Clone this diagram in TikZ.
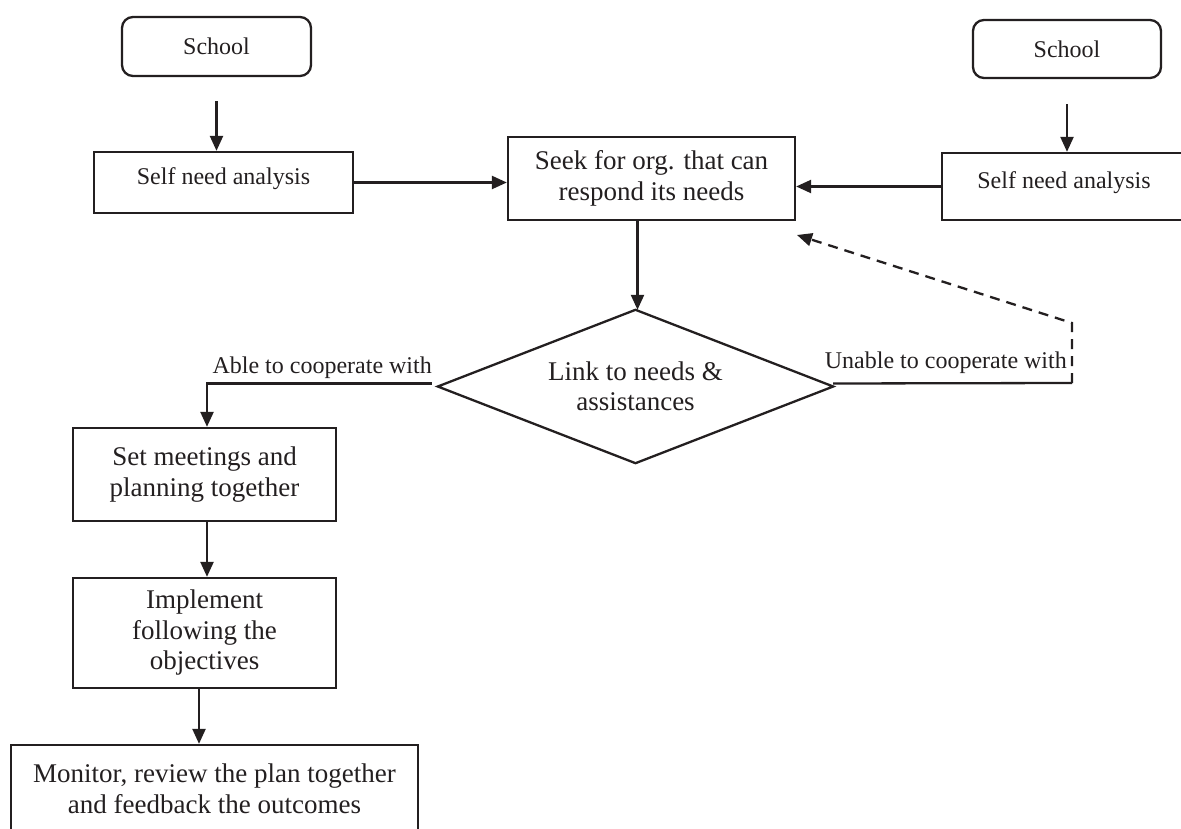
\documentclass[tikz,border=0pt]{standalone}
\usepackage{fontspec}
\setmainfont{Liberation Serif}
\usetikzlibrary{arrows.meta,calc}
\definecolor{ink}{HTML}{231F20}
\begin{document}
\begin{tikzpicture}[x=1pt,y=-1pt,
  every node/.style={text=ink},
  box/.style={draw=ink, line width=2.3pt, inner sep=0pt, align=center,
              font=\fontsize{27}{30.5}\selectfont},
  smallbox/.style={box, font=\fontsize{24}{28}\selectfont},
  selfbox/.style={smallbox, text height=16pt, text depth=12pt},
  rbox/.style={smallbox, rounded corners=11pt},
  lbl/.style={inner sep=0pt, font=\fontsize{24}{28}\selectfont},
  link/.style={draw=ink, line width=2.3pt},
  arr/.style={link, -{Triangle[length=15pt,width=13pt]}},
  fb/.style={arr, dash pattern=on 10pt off 7pt},
]
\useasboundingbox (0,0) rectangle (1181,829);
\clip (0,0) rectangle (1181,829);

% schools and their own needs analysis
\node[rbox, minimum width=189pt, minimum height=59pt] (schoolL) at (216.5,46.5) {School};
\node[rbox, minimum width=188pt, minimum height=58pt] (schoolR) at (1067,49) {School};
\node[selfbox, minimum width=259pt, minimum height=61pt] (selfL) at (223.5,182.5) {Self need analysis};
\node[selfbox, minimum width=244pt, minimum height=67pt] (selfR) at (1064,186.5) {Self need analysis};

% search for a partner organisation
\node[box, minimum width=287pt, minimum height=83pt] (seek) at (651.5,178.5)
  {Seek for org. that can\\respond its needs};

% decision
\node[inner sep=0pt, minimum width=395pt, minimum height=153pt, align=center,
      font=\fontsize{27}{30.5}\selectfont] (d) at (635.5,386.5) {Link to needs \&\\assistances};
\draw[link] (d.north) -- (d.east) -- (d.south) -- (d.west) -- cycle;

% cooperation steps
\node[box, minimum width=263pt, minimum height=93pt] (setm) at (204.5,474.5)
  {Set meetings and\\planning together};
\node[box, minimum width=263pt, minimum height=110pt] (impl) at (204.5,633)
  {Implement\\following the\\objectives};
\node[box, minimum width=407pt, minimum height=88pt] (mon) at (214.5,789)
  {Monitor, review the plan together\\and feedback the outcomes};

% branch labels
\node[lbl, anchor=base east] (ablelbl) at (432,373) {Able to cooperate with};
\node[lbl, anchor=base east] (unablelbl) at (1067,368) {Unable to cooperate with};

% connectors
\draw[arr, shorten <=24pt] (schoolL.south) -- (schoolL.south |- selfL.north);
\draw[arr, shorten <=25pt] (schoolR.south) -- (schoolR.south |- selfR.north);
\draw[arr] (selfL.east) -- (selfL.east -| seek.west);
\draw[arr] (selfR.west) -- (selfR.west -| seek.east);
\draw[arr] ([xshift=2pt]d.north |- seek.south) -- ([xshift=2pt]d.north);
\draw[arr] ([xshift=-6pt,yshift=3pt]d.west) -| ([xshift=2.5pt]setm.north);
\draw[arr] ([xshift=2.5pt]setm.south) -- ([xshift=2.5pt]impl.north);
\draw[arr] ([xshift=-5.5pt]impl.south) -- ([xshift=-5.5pt]impl.south |- mon.north);

% unable branch returns to the search
\coordinate (ucorner) at (1072,383);
\coordinate (ubend) at (1072,323);
\coordinate (fbtip) at (797,235);
\draw[link] ([yshift=3pt]d.east) -- (ucorner);
\draw[fb] (ucorner) -- (ubend) -- (fbtip);
\end{tikzpicture}
\end{document}
